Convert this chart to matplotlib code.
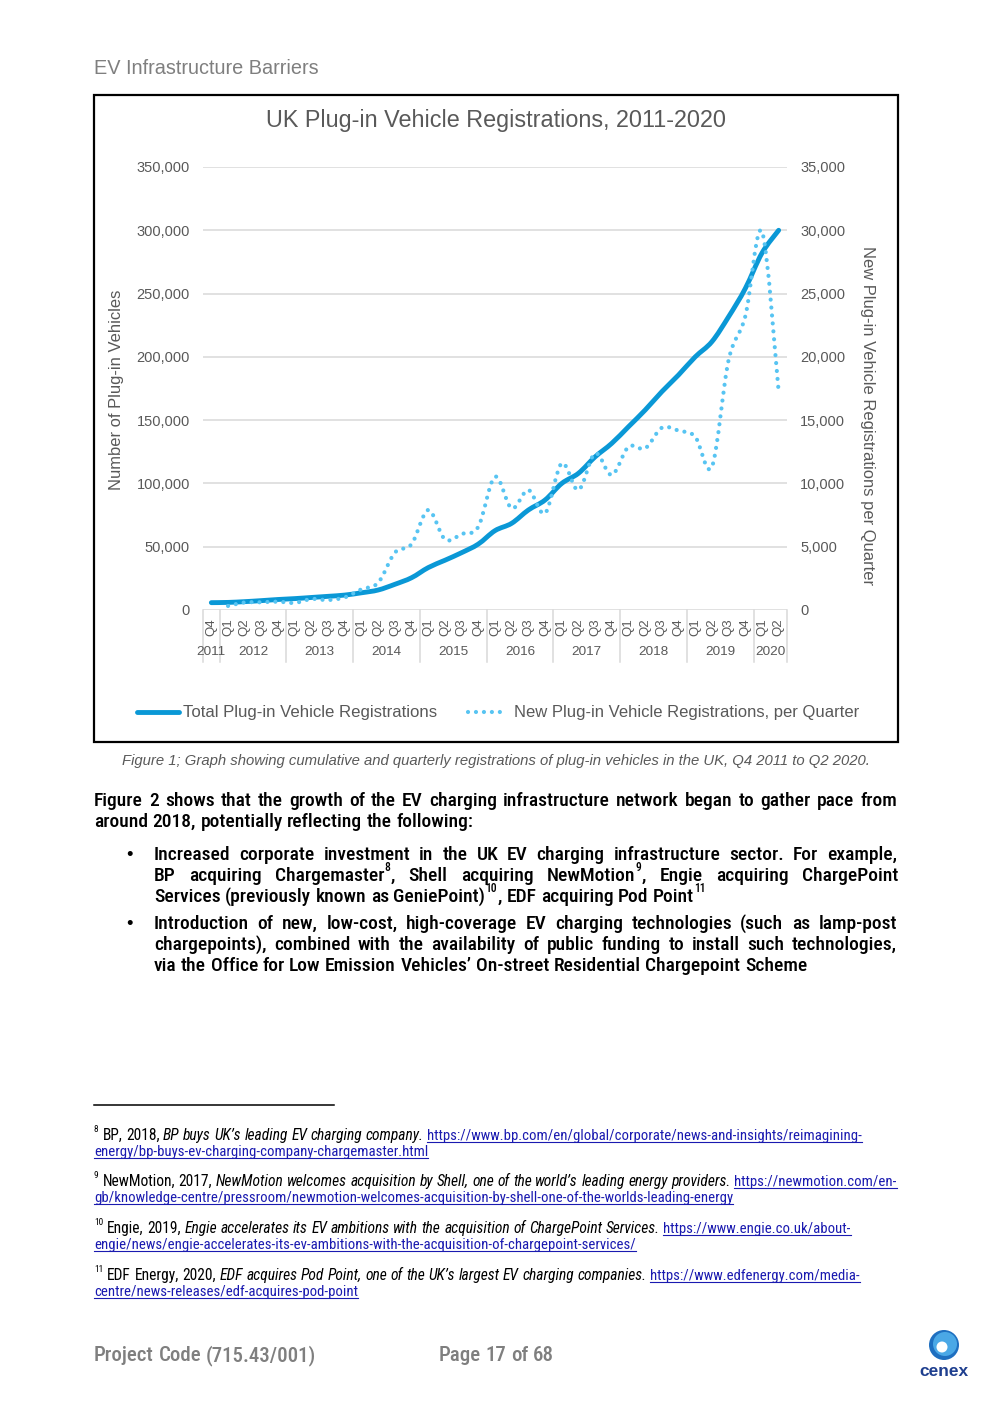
import matplotlib
matplotlib.use('Agg')
import matplotlib.pyplot as plt
from matplotlib.path import Path
from matplotlib.patches import PathPatch, Rectangle, Ellipse
from matplotlib.lines import Line2D
from matplotlib.ticker import FuncFormatter

## data
quarters = ['Q4'] + ['Q1', 'Q2', 'Q3', 'Q4'] * 8 + ['Q1', 'Q2']
years = ['2011', '2012', '2013', '2014', '2015', '2016', '2017', '2018', '2019', '2020']

# cumulative, left axis (Q4 2011 .. Q2 2020)
total_regs = [5800, 6000, 6600, 7400, 8300, 9000, 9900, 10800, 11800, 13600,
              15800, 20300, 25500, 33500, 39300, 45300, 52100, 62700, 68500, 79000,
              86900, 100000, 108000, 121000, 131700, 144800, 158000, 172500, 185700, 200000,
              212000, 231700, 254000, 282000, 300000]
# per quarter, right axis (Q1 2012 .. Q2 2020)
new_regs = [320, 600, 610, 660, 560, 870, 790, 1000, 1640, 2160,
            4530, 5210, 7900, 5580, 6000, 6580, 10530, 8030, 9480, 7640,
            11590, 9480, 12380, 10670, 12900, 12770, 14400, 14170, 13690, 11320,
            19750, 23200, 29900, 17250]
new_start = 1

W, H = 992, 1403
GREY = '#595959'
SOLID = '#0A98D6'
DOTS = '#57C4F2'
LINK = '#1A1AB0'
SANS = ['Liberation Sans', 'DejaVu Sans']
NARROW = ['Roboto Condensed', 'DejaVu Sans']
plt.rcParams['font.family'] = SANS


def fx(x):
    return x / W


def fy(y):
    return 1 - y / H


def smooth_path(xs, ys):
    # catmull-rom -> cubic bezier, like excel's smoothed line
    pts = list(zip(xs, ys))
    verts = [pts[0]]
    codes = [Path.MOVETO]
    n = len(pts)
    for i in range(n - 1):
        p0 = pts[max(i - 1, 0)]
        p1 = pts[i]
        p2 = pts[i + 1]
        p3 = pts[min(i + 2, n - 1)]
        c1 = (p1[0] + (p2[0] - p0[0]) / 6, p1[1] + (p2[1] - p0[1]) / 6)
        c2 = (p2[0] - (p3[0] - p1[0]) / 6, p2[1] - (p3[1] - p1[1]) / 6)
        verts += [c1, c2, p2]
        codes += [Path.CURVE4] * 3
    return Path(verts, codes)


fig = plt.figure(figsize=(W / 100, H / 100), dpi=100)
fig.patch.set_facecolor('white')

## chart
ax = fig.add_axes([fx(203), fy(610), (787 - 203) / W, (610 - 167) / H])
ax2 = ax.twinx()
n = len(quarters)
for a in (ax, ax2):
    a.set_xlim(-0.5, n - 0.5)
    for s in a.spines.values():
        s.set_visible(False)
    a.tick_params(axis='y', length=0, pad=9.4, labelsize=10.5, labelcolor=GREY)
    a.tick_params(axis='x', length=0, labelbottom=False)
    a.set_xticks([])
    a.yaxis.set_major_formatter(FuncFormatter(lambda v, p: f'{int(v):,}'))
ax.set_ylim(0, 350000)
ax.set_yticks(range(0, 350001, 50000))
ax2.set_ylim(0, 35000)
ax2.set_yticks(range(0, 35001, 5000))
ax.yaxis.grid(True, color='#D9D9D9', lw=1.1)
ax.set_axisbelow(True)

ax.add_patch(PathPatch(smooth_path(list(range(n)), total_regs), fill=False,
                       ec=SOLID, lw=3.5, capstyle='round', joinstyle='round'))
ax2.add_patch(PathPatch(smooth_path(list(range(new_start, n)), new_regs), fill=False,
                        ec=DOTS, lw=3.0, linestyle=(0, (0.01, 1.9)), capstyle='round'))

xt = ax.get_xaxis_transform()
for i, q in enumerate(quarters):
    ax.text(i, -0.0384, q, rotation=90, ha='center', va='center', fontsize=9.5,
            color=GREY, transform=xt)
bounds = [0] + [i for i, q in enumerate(quarters) if q == 'Q1'] + [n]
for k, yr in enumerate(years):
    a0, a1 = bounds[k], bounds[k + 1]
    ax.text((a0 + a1 - 1) / 2, -0.095, yr, ha='center', va='center', fontsize=9.7,
            color=GREY, transform=xt)
for b in bounds:
    ax.plot([b - 0.5, b - 0.5], [0, -0.117], color='#D9D9D9', lw=1.1,
            transform=xt, clip_on=False)

fig.text(fx(496), fy(120), 'UK Plug-in Vehicle Registrations, 2011-2020', ha='center',
         va='center', fontsize=16.8, color=GREY)
fig.text(fx(116), fy(390), 'Number of Plug-in Vehicles', rotation=90, ha='center',
         va='center', fontsize=11.9, color=GREY)
fig.text(fx(868), fy(416), 'New Plug-in Vehicle Registrations per Quarter', rotation=-90,
         ha='center', va='center', fontsize=11.9, color=GREY)

# legend
fig.add_artist(Line2D([fx(137), fx(179)], [fy(712), fy(712)], color=SOLID, lw=3.5,
                      solid_capstyle='round'))
fig.text(fx(183), fy(712), 'Total Plug-in Vehicle Registrations', va='center',
         fontsize=12.1, color=GREY)
fig.add_artist(Line2D([fx(468), fx(504)], [fy(712), fy(712)], color=DOTS, lw=3.0,
                      linestyle=(0, (0.01, 1.9)), dash_capstyle='round'))
fig.text(fx(514), fy(712), 'New Plug-in Vehicle Registrations, per Quarter', va='center',
         fontsize=12.0, color=GREY)

fig.add_artist(Rectangle((fx(94), fy(742)), (898 - 94) / W, (742 - 95) / H,
                         transform=fig.transFigure, fill=False, ec='black', lw=1.6))

fig.text(fx(496), fy(761), 'Figure 1; Graph showing cumulative and quarterly registrations '
         'of plug-in vehicles in the UK, Q4 2011 to Q2 2020.', ha='center', va='center',
         fontsize=10.75, style='italic', color=GREY)

fig.text(fx(94), fy(74), 'EV Infrastructure Barriers', va='baseline', fontsize=14.3,
         color='#7F7F7F')

## page text
fig.canvas.draw()
rend = fig.canvas.get_renderer()


def text_w(s, **kw):
    t = fig.text(0, 0, s, **kw)
    w = t.get_window_extent(rend).width
    t.remove()
    return w


def run_style(kind, size):
    if kind == 's':
        return dict(fontsize=size * 0.6), size * 0.5
    if kind == 'i':
        return dict(fontsize=size, style='italic'), 0
    if kind == 'u':
        return dict(fontsize=size * 0.945, color=LINK), 0
    return dict(fontsize=size), 0


def put_line(runs, x0, base, size, justify=None, weight='normal', color='black'):
    words = [[]]
    for txt, kind in runs:
        parts = txt.split(' ')
        for k, p in enumerate(parts):
            if k > 0:
                words.append([])
            if p:
                words[-1].append((p, kind))
    words = [w for w in words if w]
    base_kw = dict(family=NARROW, fontweight=weight, color=color)
    sp = text_w('x x', fontsize=size, **base_kw) - text_w('xx', fontsize=size, **base_kw)
    widths = []
    for w in words:
        ws = []
        for p, kind in w:
            kw, rise = run_style(kind, size)
            ws.append(text_w(p, **{**base_kw, **kw}))
        widths.append(ws)
    total = sum(sum(ws) for ws in widths)
    gap = sp
    if justify is not None and len(words) > 1:
        gap = (justify - x0 - total) / (len(words) - 1)
    x = x0
    for w, ws in zip(words, widths):
        for (p, kind), wd in zip(w, ws):
            kw, rise = run_style(kind, size)
            fig.text(fx(x), fy(base - rise * 1.389), p, va='baseline', **{**base_kw, **kw})
            if kind == 'u':
                fig.add_artist(Line2D([fx(x), fx(x + wd)], [fy(base + 2), fy(base + 2)],
                                      color=LINK, lw=0.8))
            x += wd + (0.6 if kind == 's' else 0)
        x += gap


BODY = 14.0
BW = 'medium'
put_line([('Figure 2 shows that the growth of the EV charging infrastructure network began '
           'to gather pace from', 'n')], 94, 806, BODY, justify=897, weight=BW)
put_line([('around 2018, potentially reflecting the following:', 'n')], 94, 827, BODY, weight=BW)

for yb in (860, 929):
    fig.text(fx(126), fy(yb), '\u2022', va='baseline', fontsize=13.2, family=SANS)

put_line([('Increased corporate investment in the UK EV charging infrastructure sector. '
           'For example,', 'n')], 154, 860, BODY, justify=897, weight=BW)
put_line([('BP acquiring Chargemaster', 'n'), ('8', 's'), (', Shell acquiring NewMotion', 'n'),
          ('9', 's'), (', Engie acquiring ChargePoint', 'n')], 154, 881, BODY, justify=897,
         weight=BW)
put_line([('Services (previously known as GeniePoint)', 'n'), ('10', 's'),
          (', EDF acquiring Pod Point', 'n'), ('11', 's')], 154, 902, BODY, weight=BW)
put_line([('Introduction of new, low-cost, high-coverage EV charging technologies (such as '
           'lamp-post', 'n')], 154, 929, BODY, justify=897, weight=BW)
put_line([('chargepoints), combined with the availability of public funding to install such '
           'technologies,', 'n')], 154, 950, BODY, justify=897, weight=BW)
put_line([('via the Office for Low Emission Vehicles\u2019 On-street Residential Chargepoint '
           'Scheme', 'n')], 154, 971, BODY, weight=BW)

# footnotes
fig.add_artist(Line2D([fx(94), fx(334)], [fy(1105), fy(1105)], color='black', lw=1.1))
FN = 11.2
put_line([('8', 's'), (' BP, 2018, ', 'n'), ('BP buys UK\u2019s leading EV charging company.', 'i'),
          (' https://www.bp.com/en/global/corporate/news-and-insights/reimagining-', 'u')],
         94, 1140, FN)
put_line([('energy/bp-buys-ev-charging-company-chargemaster.html', 'u')], 94, 1156, FN)
put_line([('9', 's'), (' NewMotion, 2017, ', 'n'),
          ('NewMotion welcomes acquisition by Shell, one of the world\u2019s leading energy '
           'providers.', 'i'), (' https://newmotion.com/en-', 'u')], 94, 1186, FN)
put_line([('gb/knowledge-centre/pressroom/newmotion-welcomes-acquisition-by-shell-one-of-the-'
           'worlds-leading-energy', 'u')], 94, 1202, FN)
put_line([('10', 's'), (' Engie, 2019, ', 'n'),
          ('Engie accelerates its EV ambitions with the acquisition of ChargePoint Services.', 'i'),
          (' https://www.engie.co.uk/about-', 'u')], 94, 1233, FN)
put_line([('engie/news/engie-accelerates-its-ev-ambitions-with-the-acquisition-of-chargepoint-'
           'services/', 'u')], 94, 1249, FN)
put_line([('11', 's'), (' EDF Energy, 2020, ', 'n'),
          ('EDF acquires Pod Point, one of the UK\u2019s largest EV charging companies.', 'i'),
          (' https://www.edfenergy.com/media-', 'u')], 94, 1280, FN)
put_line([('centre/news-releases/edf-acquires-pod-point', 'u')], 94, 1296, FN)

# footer
put_line([('Project Code (715.43/001)', 'n')], 94, 1361, 15.0, weight=BW, color='#7F7F7F')
put_line([('Page 17 of 68', 'n')], 439, 1361, 15.0, weight=BW, color='#7F7F7F')

# cenex logo
fig.add_artist(Ellipse((fx(944), fy(1345)), 30 / W, 30 / H, transform=fig.transFigure,
                       fc='#1E6FC0', ec='none'))
fig.add_artist(Ellipse((fx(945), fy(1344)), 24 / W, 24 / H, transform=fig.transFigure,
                       fc='#4AA8E6', ec='none'))
fig.add_artist(Ellipse((fx(942), fy(1347)), 11 / W, 11 / H, transform=fig.transFigure,
                       fc='white', ec='none'))
fig.text(fx(944), fy(1372), 'cenex', ha='center', va='center', fontsize=12.5,
         fontweight='bold', color='#1F3F8F')

fig.savefig('out.png', dpi=100)
